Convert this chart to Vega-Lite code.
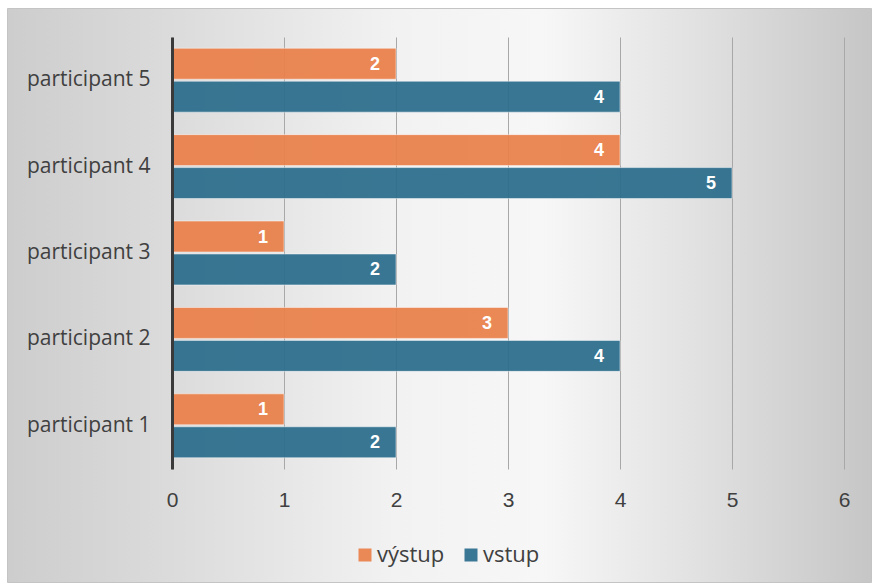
{
  "$schema": "https://vega.github.io/schema/vega-lite/v6.json",
  "width": 864,
  "height": 574,
  "autosize": {"type": "none"},
  "padding": {"left": 7, "top": 8, "right": 3, "bottom": 4},
  "background": "#ffffff",
  "data": {
    "values": [
      {"participant": "participant 5", "series": "výstup", "value": 2},
      {"participant": "participant 5", "series": "vstup", "value": 4},
      {"participant": "participant 4", "series": "výstup", "value": 4},
      {"participant": "participant 4", "series": "vstup", "value": 5},
      {"participant": "participant 3", "series": "výstup", "value": 1},
      {"participant": "participant 3", "series": "vstup", "value": 2},
      {"participant": "participant 2", "series": "výstup", "value": 3},
      {"participant": "participant 2", "series": "vstup", "value": 4},
      {"participant": "participant 1", "series": "výstup", "value": 1},
      {"participant": "participant 1", "series": "vstup", "value": 2}
    ]
  },
  "encoding": {
    "y": {
      "field": "participant",
      "type": "nominal",
      "sort": ["participant 5", "participant 4", "participant 3", "participant 2", "participant 1"],
      "scale": {"range": [29, 461], "paddingInner": 0.26, "paddingOuter": 0.13},
      "axis": {
        "title": null,
        "offset": -165,
        "zindex": 1,
        "ticks": false,
        "grid": false,
        "domain": true,
        "domainColor": "#3a3a3a",
        "domainWidth": 3,
        "labelFont": "Open Sans",
        "labelFontSize": 21,
        "labelColor": "#404040",
        "labelPadding": 22
      }
    },
    "yOffset": {
      "field": "series",
      "type": "nominal",
      "sort": ["výstup", "vstup"],
      "scale": {"paddingInner": 0.06, "paddingOuter": 0}
    },
    "x": {
      "field": "value",
      "type": "quantitative",
      "scale": {"domain": [0, 6], "nice": false, "range": [165, 837]},
      "axis": {
        "title": null,
        "orient": "top",
        "offset": -508,
        "values": [0, 1, 2, 3, 4, 5, 6],
        "format": "d",
        "domain": false,
        "ticks": false,
        "grid": true,
        "gridColor": "#a8a8a8",
        "gridWidth": 1,
        "labelFlush": false,
        "labelFont": "Liberation Sans",
        "labelFontSize": 21,
        "labelColor": "#404040",
        "labelPadding": 6
      }
    }
  },
  "layer": [
    {
      "mark": {"type": "bar", "opacity": 0.93, "stroke": "#ffffff", "strokeOpacity": 0.5, "strokeWidth": 1},
      "encoding": {
        "color": {
          "field": "series",
          "type": "nominal",
          "scale": {"domain": ["výstup", "vstup"], "range": ["#EA804A", "#2B6D8C"]},
          "legend": {
            "title": null,
            "orient": "none",
            "direction": "horizontal",
            "legendX": 347,
            "legendY": 536,
            "symbolType": "square",
            "symbolSize": 169,
            "symbolStrokeWidth": 0,
            "labelFont": "Open Sans",
            "labelFontSize": 22,
            "labelColor": "#404040",
            "labelOffset": 1,
            "columnPadding": 15
          }
        }
      }
    },
    {
      "mark": {"type": "text", "align": "right", "baseline": "middle", "dx": -16, "dy": 1, "font": "Liberation Sans", "fontWeight": "bold", "fontSize": 18, "fill": "#ffffff"},
      "encoding": {
        "text": {"field": "value", "type": "quantitative"}
      }
    }
  ],
  "config": {
    "view": {
      "stroke": "#c4c4c4",
      "strokeWidth": 1,
      "fill": {
        "gradient": "linear",
        "x1": 0, "y1": 0, "x2": 1, "y2": 0,
        "stops": [
          {"offset": 0, "color": "#cdcdcd"},
          {"offset": 0.2, "color": "#dcdcdc"},
          {"offset": 0.45, "color": "#f2f2f2"},
          {"offset": 0.62, "color": "#f7f7f7"},
          {"offset": 0.8, "color": "#e1e1e1"},
          {"offset": 1, "color": "#c6c6c6"}
        ]
      }
    }
  }
}
